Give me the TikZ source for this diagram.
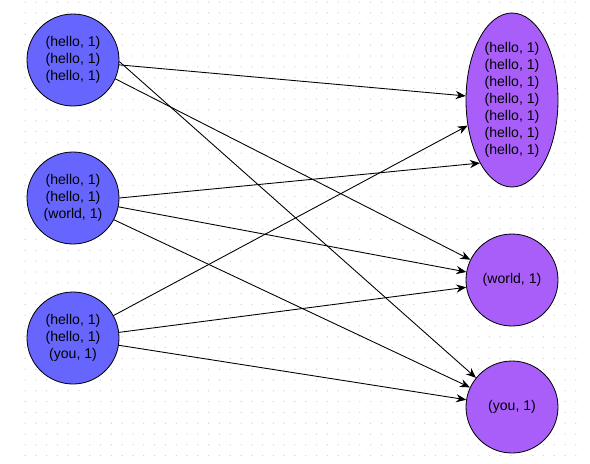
\documentclass[tikz,border=0pt]{standalone}
\usepackage{fontspec}
\setmainfont{Liberation Sans}
\usetikzlibrary{shapes.geometric, arrows.meta}
\definecolor{mapblue}{HTML}{6666FF}
\definecolor{reducepurple}{HTML}{A95EFA}
\begin{document}
\begin{tikzpicture}[x=0.03cm, y=-0.03cm, line cap=round, line join=round, >={Stealth[length=8.5pt, width=7pt]}, font=\fontsize{12}{14.5}\selectfont]
	\tikzset{mapper/.style={circle, draw, line width=0.7pt, fill=mapblue, minimum size=2.76cm, inner sep=0pt, align=center},
		reducer/.style={circle, draw, line width=0.7pt, fill=reducepurple, minimum size=2.76cm, inner sep=0pt, align=center},
		link/.style={->, line width=0.75pt}}
	\useasboundingbox (0,0) rectangle (590,463);
	\fill[white] (0,0) rectangle (590,463);
	% dotted grid
	\foreach \i in {0,...,51}
		\foreach \j in {0,...,42}
			\fill[black!18] (25+10.8*\i, 2+10.8*\j) circle (0.02cm);
	% mappers
	\node[mapper] (m1) at (73,60) {(hello, 1)\\(hello, 1)\\(hello, 1)};
	\node[mapper] (m2) at (73,198) {(hello, 1)\\(hello, 1)\\(world, 1)};
	\node[mapper] (m3) at (73,338) {(hello, 1)\\(hello, 1)\\(you, 1)};
	% reducers
	\node[reducer, ellipse, minimum width=2.76cm, minimum height=5.22cm] (hello) at (512,100) {(hello, 1)\\(hello, 1)\\(hello, 1)\\(hello, 1)\\(hello, 1)\\(hello, 1)\\(hello, 1)};
	\node[reducer] (world) at (512,280) {(world, 1)};
	\node[reducer] (you) at (512,407) {(you, 1)};
	% shuffle
	\foreach \a/\b in {m1.-6/hello.175, m1.-24/world.154, m1.-2/you.141,
		m2.0/hello.243, m2.-11/world.170, m2.-28/you.155,
		m3.29/hello.210, m3.7/world.189, m3.-9/you.171}
		\draw[link] (\a) -- (\b);
\end{tikzpicture}
\end{document}
